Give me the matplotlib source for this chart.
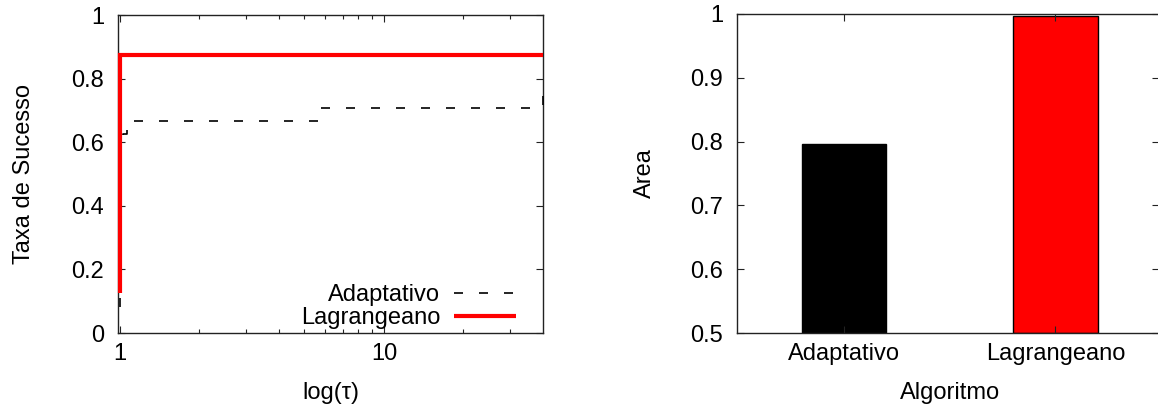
import matplotlib
matplotlib.use("Agg")
import matplotlib.pyplot as plt
from matplotlib.ticker import FixedLocator, NullFormatter

plt.rcParams['font.family'] = ['Liberation Sans', 'DejaVu Sans']

# ---- data ----
tau_adapt = [1.0, 1.0, 1.03, 1.07, 5.7, 40.0]
rho_adapt = [0.083, 0.583, 0.625, 0.667, 0.708, 0.75]
tau_lagr = [1.0, 1.0, 40.0]
rho_lagr = [0.125, 0.875, 0.875]

algorithms = ["Adaptativo", "Lagrangeano"]
areas = [0.797, 0.997]
bar_colors = ["#000000", "#ff0000"]

yticks_left = [0, 0.2, 0.4, 0.6, 0.8, 1.0]
ytick_labels_left = ["0", "0.2", "0.4", "0.6", "0.8", "1"]
yticks_right = [0.5, 0.6, 0.7, 0.8, 0.9, 1.0]
ytick_labels_right = ["0.5", "0.6", "0.7", "0.8", "0.9", "1"]

FS = 17
W, H = 1158, 411
fig = plt.figure(figsize=(W / 100, H / 100), dpi=100)

def frac(x0, y0, x1, y1):
    return [x0 / W, 1 - y1 / H, (x1 - x0) / W, (y1 - y0) / H]

ax1 = fig.add_axes(frac(118, 15, 543, 333))
ax2 = fig.add_axes(frac(737, 14, 1159, 333))

for ax in (ax1, ax2):
    for s in ax.spines.values():
        s.set_linewidth(1.0)
        s.set_color("#222222")
    ax.tick_params(which="both", direction="in", top=True, right=True,
                   labelsize=FS, colors="#222222", labelcolor="black", width=0.8)
    ax.tick_params(which="major", length=5)
    ax.tick_params(which="minor", length=3)
    ax.tick_params(axis="y", which="major", pad=10)
    ax.tick_params(axis="x", which="major", pad=7)

# ---- left: performance profile ----
ax1.plot(tau_adapt, rho_adapt, drawstyle="steps-post", color="black",
         lw=1.2, linestyle=(0, (5.4, 9.6)), label="Adaptativo",
         clip_on=False, zorder=4)
ax1.plot(tau_lagr, rho_lagr, drawstyle="steps-post", color="#ff0000",
         lw=3.0, label="Lagrangeano", clip_on=False, zorder=5,
         solid_capstyle="butt", solid_joinstyle="miter")
ax1.set_xscale("log")
ax1.set_xlim(0.985, 40)
ax1.set_ylim(0, 1)
ax1.xaxis.set_major_locator(FixedLocator([1, 10]))
ax1.xaxis.set_minor_locator(FixedLocator([2, 3, 4, 5, 6, 7, 8, 9, 20, 30]))
ax1.set_xticklabels(["1", "10"])
ax1.xaxis.set_minor_formatter(NullFormatter())
ax1.set_yticks(yticks_left)
ax1.set_yticklabels(ytick_labels_left)
ax1.set_xlabel("log(τ)", fontsize=FS)
ax1.xaxis.set_label_coords(0.5, -0.189)
ax1.xaxis.label.set_verticalalignment("center")
ax1.set_ylabel("Taxa de Sucesso", fontsize=FS)
ax1.yaxis.set_label_coords(-0.222, 0.5)
ax1.yaxis.label.set_verticalalignment("center")
leg = ax1.legend(loc="lower right", bbox_to_anchor=(0.975, -0.04), frameon=False,
                 markerfirst=False, fontsize=FS, handlelength=2.6,
                 handletextpad=0.6, labelspacing=0.05, borderaxespad=0.3)

# ---- right: bar chart ----
xpos = list(range(len(algorithms)))
ax2.bar(xpos, [a - 0.5 for a in areas], bottom=0.5, width=0.4,
        color=bar_colors, edgecolor="black", linewidth=1.0)
ax2.set_xlim(-0.505, 1.49)
ax2.set_ylim(0.5, 1.0)
ax2.set_xticks(xpos)
ax2.set_xticklabels(algorithms)
ax2.set_yticks(yticks_right)
ax2.set_yticklabels(ytick_labels_right)
ax2.set_xlabel("Algoritmo", fontsize=FS)
ax2.xaxis.set_label_coords(0.505, -0.189)
ax2.xaxis.label.set_verticalalignment("center")
ax2.set_ylabel("Area", fontsize=FS)
ax2.yaxis.set_label_coords(-0.218, 0.5)
ax2.yaxis.label.set_verticalalignment("center")

fig.savefig("out.png", dpi=100)
